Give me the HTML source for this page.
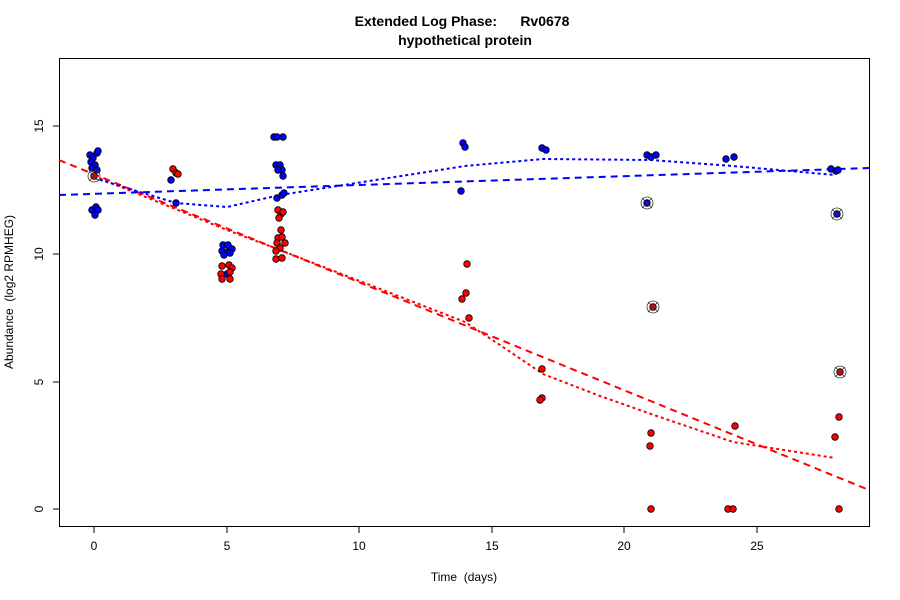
<!DOCTYPE html><html><head><style>body{margin:0;background:#fff}svg{display:block;font-family:"Liberation Sans",sans-serif}</style></head><body>
<svg width="900" height="600" xmlns="http://www.w3.org/2000/svg">
<text x="462" y="26" text-anchor="middle" font-size="14" font-weight="bold" style="white-space:pre" xml:space="preserve">Extended Log Phase:      Rv0678</text>
<text x="465" y="45" text-anchor="middle" font-size="14" font-weight="bold">hypothetical protein</text>
<rect x="59.5" y="58.5" width="810" height="468" fill="none" stroke="#000"/>
<g stroke="#000" font-size="12" text-anchor="middle">
<line x1="94" y1="527" x2="94" y2="533"/><line x1="227" y1="527" x2="227" y2="533"/><line x1="359" y1="527" x2="359" y2="533"/><line x1="492" y1="527" x2="492" y2="533"/><line x1="624" y1="527" x2="624" y2="533"/><line x1="757" y1="527" x2="757" y2="533"/>
<line x1="53" y1="509" x2="59" y2="509"/><line x1="53" y1="382" x2="59" y2="382"/><line x1="53" y1="254" x2="59" y2="254"/><line x1="53" y1="126" x2="59" y2="126"/>
</g>
<g font-size="12" text-anchor="middle">
<text x="94" y="550">0</text><text x="227" y="550">5</text><text x="359" y="550">10</text><text x="492" y="550">15</text><text x="624" y="550">20</text><text x="757" y="550">25</text>
<text transform="translate(43,509) rotate(-90)">0</text><text transform="translate(43,382) rotate(-90)">5</text><text transform="translate(43,254) rotate(-90)">10</text><text transform="translate(43,126) rotate(-90)">15</text>
<text x="464" y="581" style="white-space:pre" xml:space="preserve">Time  (days)</text>
<text transform="translate(13,292) rotate(-90)" style="white-space:pre" xml:space="preserve">Abundance  (log2 RPMHEG)</text>
</g>
<g fill="none" stroke-width="2">
<line x1="59" y1="160" x2="869" y2="490" stroke="#f00" stroke-dasharray="7,5"/>
<polyline points="94,176 227,230 280,250 465,322 500,345 543,374 600,396 651,414 733,442 835,458" stroke="#f00" stroke-dasharray="3,3"/>
<line x1="59" y1="195" x2="869" y2="168" stroke="#00f" stroke-dasharray="7,5"/>
<polyline points="94,178 176,203 227,207 280,195 465,166 543,159 651,160 733,166 835,175" stroke="#00f" stroke-dasharray="3,3"/>
</g>
<g stroke="#000" stroke-width="0.8">
<g fill="#00f">
<circle cx="90" cy="155" r="3.3"/><circle cx="93" cy="158" r="3.3"/><circle cx="97" cy="153" r="3.3"/><circle cx="91" cy="162" r="3.3"/><circle cx="95" cy="165" r="3.3"/><circle cx="92" cy="168" r="3.3"/><circle cx="97" cy="170" r="3.3"/><circle cx="98" cy="151" r="3.3"/>
<circle cx="92" cy="210" r="3.3"/><circle cx="96" cy="207" r="3.3"/><circle cx="98" cy="210" r="3.3"/><circle cx="95" cy="215" r="3.3"/>
<circle cx="171" cy="180" r="3.3"/><circle cx="176" cy="203" r="3.3"/>
<circle cx="223" cy="245" r="3.3"/><circle cx="228" cy="245" r="3.3"/><circle cx="232" cy="249" r="3.3"/><circle cx="222" cy="251" r="3.3"/><circle cx="227" cy="252" r="3.3"/><circle cx="230" cy="253" r="3.3"/><circle cx="224" cy="255" r="3.3"/><circle cx="227" cy="274" r="3.3"/>
<circle cx="274" cy="137" r="3.3"/><circle cx="277" cy="137" r="3.3"/><circle cx="283" cy="137" r="3.3"/>
<circle cx="276" cy="165" r="3.3"/><circle cx="280" cy="165" r="3.3"/><circle cx="282" cy="170" r="3.3"/><circle cx="283" cy="176" r="3.3"/><circle cx="278" cy="170" r="3.3"/>
<circle cx="277" cy="198" r="3.3"/><circle cx="282" cy="195" r="3.3"/><circle cx="284" cy="193" r="3.3"/>
<circle cx="463" cy="143" r="3.3"/><circle cx="465" cy="147" r="3.3"/><circle cx="461" cy="191" r="3.3"/>
<circle cx="542" cy="148" r="3.3"/><circle cx="546" cy="150" r="3.3"/>
<circle cx="647" cy="155" r="3.3"/><circle cx="651" cy="157" r="3.3"/><circle cx="656" cy="155" r="3.3"/><circle cx="647" cy="203" r="3.3"/>
<circle cx="726" cy="159" r="3.3"/><circle cx="734" cy="157" r="3.3"/>
<circle cx="831" cy="169" r="3.3"/><circle cx="836" cy="171" r="3.3"/><circle cx="838" cy="170" r="3.3"/><circle cx="837" cy="214" r="3.3"/>
</g>
<g fill="#f00">
<circle cx="94" cy="176" r="3.3"/>
<circle cx="173" cy="169" r="3.3"/><circle cx="176" cy="173" r="3.3"/><circle cx="178" cy="174" r="3.3"/>
<circle cx="222" cy="266" r="3.3"/><circle cx="229" cy="265" r="3.3"/><circle cx="232" cy="268" r="3.3"/><circle cx="221" cy="274" r="3.3"/><circle cx="230" cy="272" r="3.3"/><circle cx="222" cy="279" r="3.3"/><circle cx="230" cy="279" r="3.3"/>
<circle cx="278" cy="210" r="3.3"/><circle cx="281" cy="214" r="3.3"/><circle cx="283" cy="212" r="3.3"/><circle cx="279" cy="218" r="3.3"/>
<circle cx="281" cy="230" r="3.3"/><circle cx="278" cy="238" r="3.3"/><circle cx="282" cy="237" r="3.3"/><circle cx="285" cy="243" r="3.3"/><circle cx="277" cy="243" r="3.3"/><circle cx="280" cy="248" r="3.3"/><circle cx="276" cy="251" r="3.3"/><circle cx="276" cy="259" r="3.3"/><circle cx="282" cy="258" r="3.3"/>
<circle cx="467" cy="264" r="3.3"/><circle cx="466" cy="293" r="3.3"/><circle cx="462" cy="299" r="3.3"/><circle cx="469" cy="318" r="3.3"/>
<circle cx="542" cy="369" r="3.3"/><circle cx="542" cy="398" r="3.3"/><circle cx="540" cy="400" r="3.3"/>
<circle cx="653" cy="307" r="3.3"/><circle cx="651" cy="433" r="3.3"/><circle cx="650" cy="446" r="3.3"/><circle cx="651" cy="509" r="3.3"/>
<circle cx="735" cy="426" r="3.3"/><circle cx="728" cy="509" r="3.3"/><circle cx="733" cy="509" r="3.3"/>
<circle cx="840" cy="372" r="3.3"/><circle cx="839" cy="417" r="3.3"/><circle cx="835" cy="437" r="3.3"/><circle cx="839" cy="509" r="3.3"/>
</g>
</g>
<g fill="none" stroke="#333" stroke-width="0.8">
<circle cx="94" cy="176" r="6"/><path d="M89 171l10 10M99 171l-10 10"/>
<circle cx="647" cy="203" r="6"/><path d="M642 198l10 10M652 198l-10 10"/>
<circle cx="653" cy="307" r="6"/><path d="M648 302l10 10M658 302l-10 10"/>
<circle cx="837" cy="214" r="6"/><path d="M832 209l10 10M842 209l-10 10"/>
<circle cx="840" cy="372" r="6"/><path d="M835 367l10 10M845 367l-10 10"/>
</g>
</svg></body></html>
